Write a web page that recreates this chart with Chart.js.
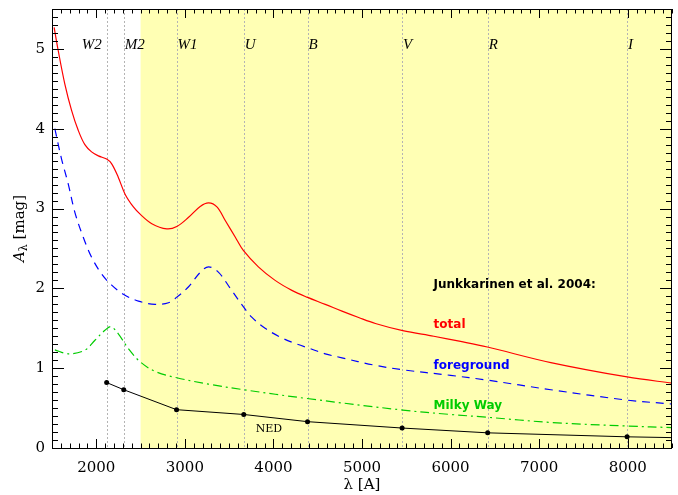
<!DOCTYPE html>
<html>
<head>
<meta charset="utf-8">
<script src="https://cdn.jsdelivr.net/npm/chart.js@4.4.1/dist/chart.umd.min.js"></script>
<style>
  html, body { margin: 0; padding: 0; background: #fff; }
  #wrap { width: 678px; height: 495px; }
</style>
</head>
<body>
<div id="wrap"><canvas id="chart" width="678" height="495"></canvas></div>
<script>
// ===========================
// DATA
// ===========================

// Junkkarinen et al. 2004: total extinction
const totalWave = [1524, 1570, 1645, 1721, 1796, 1871, 1947, 2023, 2117, 2174, 2249, 2325, 2419, 2495, 2627, 2796, 2909, 3042, 3173, 3268, 3362, 3456, 3570, 3660, 3830, 4019, 4208, 4378, 4585, 4774, 4962, 5151, 5460, 5811, 6113, 6415, 7132, 7993, 8514];
const totalA = [5.27, 4.98, 4.56, 4.23, 3.98, 3.80, 3.71, 3.66, 3.62, 3.56, 3.39, 3.18, 3.02, 2.93, 2.81, 2.745, 2.775, 2.89, 3.025, 3.07, 3.02, 2.85, 2.64, 2.475, 2.27, 2.10, 1.975, 1.89, 1.80, 1.715, 1.635, 1.56, 1.47, 1.40, 1.335, 1.265, 1.07, 0.89, 0.81];

// foreground
const fgWave = [1532, 1608, 1683, 1759, 1853, 1947, 2060, 2174, 2306, 2476, 2664, 2815, 2909, 3042, 3173, 3268, 3381, 3513, 3660, 3755, 3906, 4076, 4245, 4415, 4585, 4774, 5132, 5460, 6000, 6415, 7132, 7993, 8514];
const fgA = [4.00, 3.62, 3.31, 2.95, 2.64, 2.39, 2.18, 2.04, 1.925, 1.84, 1.80, 1.82, 1.89, 2.02, 2.20, 2.27, 2.20, 2.00, 1.77, 1.64, 1.50, 1.39, 1.31, 1.245, 1.18, 1.13, 1.04, 0.98, 0.91, 0.85, 0.73, 0.60, 0.55];

// Milky Way
const mwWave = [1532, 1683, 1871, 1985, 2098, 2166, 2249, 2362, 2495, 2664, 2909, 3268, 3664, 4378, 5460, 6000, 6415, 7132, 7993, 8514];
const mwA = [1.23, 1.18, 1.225, 1.35, 1.475, 1.52, 1.43, 1.245, 1.08, 0.96, 0.88, 0.80, 0.73, 0.62, 0.475, 0.42, 0.385, 0.32, 0.275, 0.255];

// NED values at the filter wavelengths (last one is the extension to the edge)
const nedWave = [2117, 2310, 2906, 3665, 4385, 5453, 6419, 7993, 8500];
const nedA = [0.82, 0.73, 0.48, 0.42, 0.33, 0.25, 0.19, 0.14, 0.13];

// filter bands
const bandNames = ["W2", "M2", "W1", "U", "B", "V", "R", "I"];
const bandWave = [2117, 2310, 2906, 3665, 4385, 5453, 6419, 7993];

// shaded optical region
const shadeFrom = 2500;

// axes
const xMin = 1500, xMax = 8500;
const yMin = 0, yMax = 5.5;
const xTickValues = [2000, 3000, 4000, 5000, 6000, 7000, 8000];
const yTickValues = [0, 1, 2, 3, 4, 5];

// text notes
const noteText = ["Junkkarinen et al. 2004:", "total", "foreground", "Milky Way", "NED"];
const noteWave = [5808, 5808, 5808, 5808, 3800];
const noteA = [2.04, 1.54, 1.03, 0.53, 0.235];
const noteColor = ["#000000", "#ff0000", "#0000ff", "#00cc00", "#000000"];

// ===========================
// HELPERS
// ===========================

function toPoints(xs, ys) {
  return xs.map((x, i) => ({ x: x, y: ys[i] }));
}

const SERIF = "'DejaVu Serif', serif";
const SANS = "'DejaVu Sans', sans-serif";

// ===========================
// PLUGINS
// ===========================

// yellow band, dotted filter lines and their labels (under the curves)
const backdrop = {
  id: "backdrop",
  beforeDatasetsDraw(chart) {
    const { ctx, chartArea: a, scales } = chart;
    const x = scales.x;
    ctx.save();
    const x0 = x.getPixelForValue(shadeFrom);
    ctx.fillStyle = "#ffffb4";
    ctx.fillRect(x0, a.top, a.right - x0, a.bottom - a.top);

    ctx.strokeStyle = "#b4b4b4";
    ctx.lineWidth = 1;
    ctx.setLineDash([2, 2]);
    bandWave.forEach((w) => {
      const px = Math.round(x.getPixelForValue(w)) + 0.5;
      ctx.beginPath();
      ctx.moveTo(px, a.top);
      ctx.lineTo(px, a.bottom);
      ctx.stroke();
    });
    ctx.setLineDash([]);

    ctx.fillStyle = "#000";
    ctx.font = "italic 15px 'Liberation Serif', serif";
    ctx.textBaseline = "middle";
    bandNames.forEach((name, i) => {
      const px = x.getPixelForValue(bandWave[i]);
      // first label sits left of its line so it does not collide with M2
      if (i === 0) {
        ctx.textAlign = "right";
        ctx.fillText(name, px - 5, a.top + 36);
      } else {
        ctx.textAlign = "left";
        ctx.fillText(name, px + 1, a.top + 36);
      }
    });
    ctx.restore();
  },
};

// frame with inward ticks on all four sides, notes and y title
const frame = {
  id: "frame",
  afterDatasetsDraw(chart) {
    const { ctx, chartArea: a, scales } = chart;
    const x = scales.x, y = scales.y;
    ctx.save();
    ctx.strokeStyle = "#000";
    ctx.lineWidth = 1;
    ctx.strokeRect(a.left + 0.5, a.top + 0.5, a.right - a.left - 1, a.bottom - a.top);

    ctx.beginPath();
    for (let v = xMin; v <= xMax; v += 100) {
      const px = Math.round(x.getPixelForValue(v)) + 0.5;
      const len = v % 1000 === 0 ? 9 : 4.5;
      ctx.moveTo(px, a.bottom);
      ctx.lineTo(px, a.bottom - len);
      ctx.moveTo(px, a.top);
      ctx.lineTo(px, a.top + len);
    }
    for (let k = 0; k <= 55; k++) {
      const py = Math.round(y.getPixelForValue(k / 10)) + 0.5;
      const len = k % 10 === 0 ? 12 : 6;
      ctx.moveTo(a.left, py);
      ctx.lineTo(a.left + len, py);
      ctx.moveTo(a.right, py);
      ctx.lineTo(a.right - len, py);
    }
    ctx.stroke();

    // notes
    ctx.textBaseline = "middle";
    ctx.textAlign = "left";
    noteText.forEach((t, i) => {
      ctx.fillStyle = noteColor[i];
      ctx.font = i === 4 ? "11px " + SERIF : "bold 12px " + SANS;
      ctx.fillText(t, x.getPixelForValue(noteWave[i]), y.getPixelForValue(noteA[i]));
    });

    // y title: A with subscript lambda, then [mag]
    const cy = (a.top + a.bottom) / 2;
    ctx.translate(20, cy);
    ctx.rotate(-Math.PI / 2);
    ctx.fillStyle = "#000";
    ctx.textAlign = "left";
    ctx.textBaseline = "middle";
    const big = "italic 15px " + SERIF, small = "11px " + SERIF, plain = "15px " + SERIF;
    ctx.font = big;
    const wA = ctx.measureText("A").width;
    ctx.font = small;
    const wL = ctx.measureText("\u03bb").width;
    ctx.font = plain;
    const wM = ctx.measureText(" [mag]").width;
    let cx = -(wA + wL + wM) / 2;
    ctx.font = big;
    ctx.fillText("A", cx, 0);
    cx += wA;
    ctx.font = small;
    ctx.fillText("\u03bb", cx, 4);
    cx += wL;
    ctx.font = plain;
    ctx.fillText(" [mag]", cx, 0);
    ctx.restore();
  },
};

// ===========================
// CHART
// ===========================

const ctx = document.getElementById("chart").getContext("2d");

new Chart(ctx, {
  type: "line",
  data: {
    datasets: [
      {
        label: "total",
        data: toPoints(totalWave, totalA),
        borderColor: "#ff0000",
        borderWidth: 1.2,
        pointRadius: 0,
        tension: 0.35,
      },
      {
        label: "foreground",
        data: toPoints(fgWave, fgA),
        borderColor: "#0000ff",
        borderWidth: 1.2,
        borderDash: [8, 6],
        pointRadius: 0,
        tension: 0.35,
      },
      {
        label: "Milky Way",
        data: toPoints(mwWave, mwA),
        borderColor: "#00cc00",
        borderWidth: 1.2,
        borderDash: [9, 4, 2, 4],
        pointRadius: 0,
        tension: 0.35,
      },
      {
        label: "NED",
        data: toPoints(nedWave, nedA),
        borderColor: "#000000",
        backgroundColor: "#000000",
        borderWidth: 1,
        pointRadius: nedWave.map((w, i) => (i < bandWave.length ? 2.5 : 0)),
        pointBorderWidth: 0,
        tension: 0,
      },
    ],
  },
  options: {
    responsive: false,
    animation: false,
    layout: { padding: { top: 9, right: 6, left: 0, bottom: 0 } },
    plugins: {
      legend: { display: false },
      tooltip: { enabled: false },
    },
    scales: {
      x: {
        type: "linear",
        min: xMin,
        max: xMax,
        grid: { display: false, drawTicks: false },
        border: { display: false },
        afterBuildTicks: (s) => { s.ticks = xTickValues.map((v) => ({ value: v })); },
        afterFit: (s) => { s.height = 47; s.paddingLeft = 0; s.paddingRight = 0; },
        ticks: {
          color: "#000",
          font: { family: SERIF, size: 15 },
          padding: 11,
          maxRotation: 0,
          callback: (v) => String(v),
        },
        title: {
          display: true,
          text: "\u03bb [A]",
          color: "#000",
          font: { family: SERIF, size: 15 },
          padding: { top: 0, bottom: 1 },
        },
      },
      y: {
        type: "linear",
        min: yMin,
        max: yMax,
        grid: { display: false, drawTicks: false },
        border: { display: false },
        afterBuildTicks: (s) => { s.ticks = yTickValues.map((v) => ({ value: v })); },
        afterFit: (s) => { s.width = 52; s.paddingTop = 0; s.paddingBottom = 0; },
        ticks: {
          color: "#000",
          font: { family: SERIF, size: 15 },
          padding: 7,
          callback: (v) => String(v),
        },
      },
    },
  },
  plugins: [backdrop, frame],
});
</script>
</body>
</html>
